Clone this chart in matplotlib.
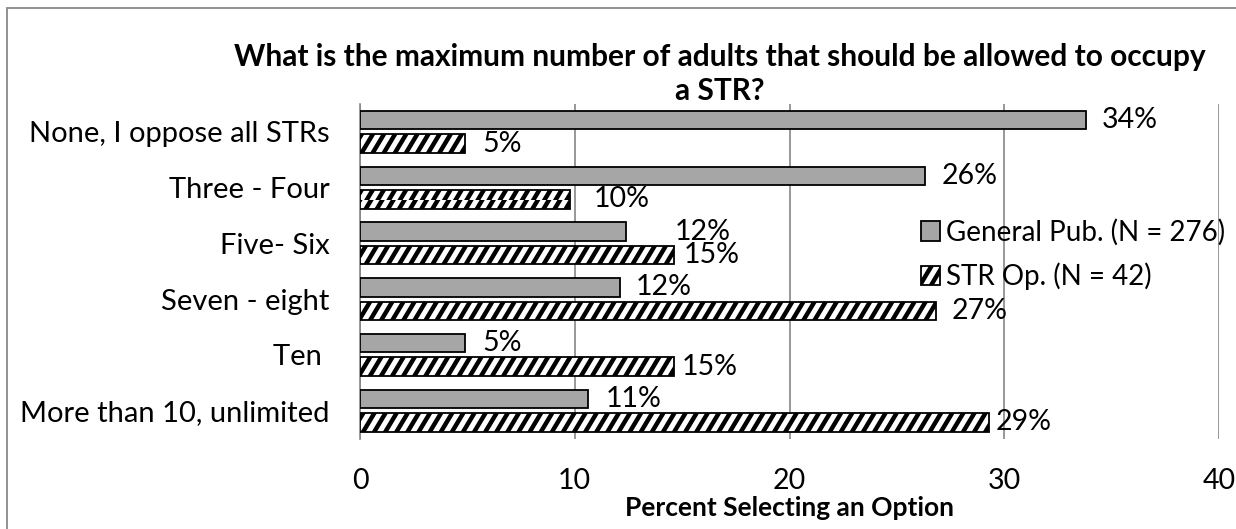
import math

import matplotlib
matplotlib.use('Agg')
import matplotlib.hatch as mhatch
import matplotlib.pyplot as plt
import numpy as np
from matplotlib.patches import Rectangle


categories = [
    'None, I oppose all STRs',
    'Three - Four',
    'Five- Six',
    'Seven - eight',
    'Ten ',
    'More than 10, unlimited',
]
general_pub = [33.8, 26.3, 12.4, 12.1, 4.9, 10.6]
str_op = [4.9, 9.8, 14.6, 26.8, 14.6, 29.3]
series_names = ['General Pub. (N = 276)', 'STR Op. (N = 42)']
x_ticks = [0, 10, 20, 30, 40]

# label nudges in pixels (right of bar end)
gen_dx = [16, 17, 48, 16, 17, 18]
str_dx = [17, 23, 10, 16, 8, 6]


class SteepHatch(mhatch.HatchPatternBase):
    """Steep '/' stripes instead of the stock 45 degree ones."""

    slope = 0.6

    def __init__(self, hatch, density):
        self.num_lines = int(hatch.count('/') * 4.5)
        if self.num_lines:
            self.offsets = np.arange(-math.ceil(self.slope * self.num_lines),
                                     self.num_lines + 1) / self.num_lines
            self.num_vertices = len(self.offsets) * 2
        else:
            self.num_vertices = 0

    def set_vertices_and_codes(self, vertices, codes):
        for i, x0 in enumerate(self.offsets):
            vertices[2 * i] = (x0, 0.0)
            vertices[2 * i + 1] = (x0 + self.slope, 1.0)
            codes[2 * i] = mhatch.Path.MOVETO
            codes[2 * i + 1] = mhatch.Path.LINETO


mhatch._hatch_types[mhatch._hatch_types.index(mhatch.NorthEastHatch)] = SteepHatch

plt.rcParams['font.family'] = ['Lato', 'DejaVu Sans']
plt.rcParams['hatch.linewidth'] = 3.2
plt.rcParams['hatch.color'] = 'black'

W, H = 1236, 529
fig = plt.figure(figsize=(W / 100, H / 100), dpi=100)
ax = fig.add_axes([360 / W, 1 - 438.5 / H, (1219 - 360) / W, (438.5 - 104) / H])

y = np.arange(len(categories))
h = 0.33
off = 0.21
b1 = ax.barh(y - off, general_pub, height=h, color='#a6a6a6',
             edgecolor='black', linewidth=1.3, label=series_names[0], zorder=3)
b2 = ax.barh(y + off, str_op, height=h, color='white', hatch='//',
             edgecolor='black', linewidth=1.3, label=series_names[1], zorder=3)

for yi, v, dx in zip(y - off, general_pub, gen_dx):
    ax.annotate(f'{v:.0f}%', (v, yi), xytext=(dx * 0.72, 0), textcoords='offset points',
                ha='left', va='center', fontsize=20.5)
for yi, v, dx in zip(y + off, str_op, str_dx):
    ax.annotate(f'{v:.0f}%', (v, yi), xytext=(dx * 0.72, 0), textcoords='offset points',
                ha='left', va='center', fontsize=20.5)

ax.set_xlim(0, 40)
ax.set_ylim(len(categories) - 0.5, -0.5)
ax.set_xticks(x_ticks)
ax.set_yticks(y)
ax.set_yticklabels(categories, fontsize=21)
ax.tick_params(axis='x', labelsize=20.5, length=0, pad=21)
ax.tick_params(axis='y', length=0, pad=22)
ax.grid(axis='x', color='#868686', linewidth=1.2, zorder=0)
for s in ['top', 'right', 'bottom']:
    ax.spines[s].set_visible(False)
ax.spines['left'].set_color('#868686')
ax.spines['left'].set_linewidth(1.2)
ax.set_xlabel('Percent Selecting an Option', fontsize=19, fontweight='bold', labelpad=2)

fig.text(720 / W, 1 - 74 / H,
         'What is the maximum number of adults that should be allowed to occupy\na STR?',
         ha='center', va='center', fontsize=21.5, fontweight='bold', linespacing=1.3)

fig.legend(handles=[b1, b2], loc='upper left', bbox_to_anchor=(921 / W, 1 - 219 / H),
           frameon=False, fontsize=20, handlelength=0.7, handleheight=0.7,
           handletextpad=0.2, labelspacing=0.6, borderpad=0, borderaxespad=0)

fig.patches.append(Rectangle((7 / W, -0.1), 1.2, 1 - 8 / H + 0.1, transform=fig.transFigure,
                             fill=False, edgecolor='#898989', linewidth=1.3))

fig.savefig('out.png', dpi=100)
